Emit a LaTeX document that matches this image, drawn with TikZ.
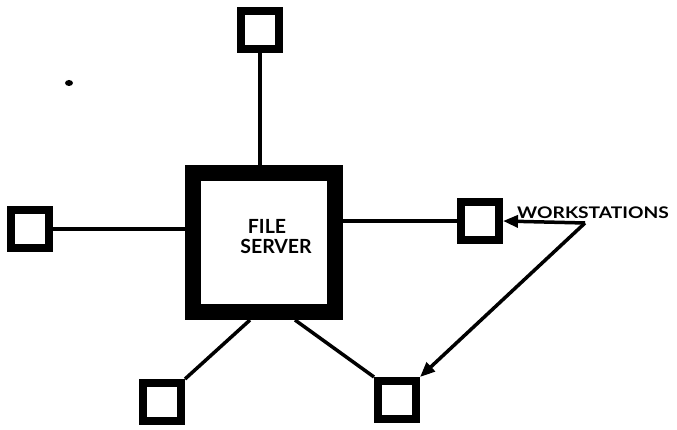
\documentclass[tikz,border=0pt]{standalone}
\usepackage{fontspec}
\setmainfont{Lato}
\usetikzlibrary{arrows.meta}

\tikzset{
  wsbox/.style={draw, line width=8pt, minimum size=38pt, inner sep=0pt},
  serverbox/.style={draw, line width=16pt, minimum width=142pt, minimum height=139pt, fill=white},
  caption/.style={font=\fontsize{19.5}{21}\selectfont\bfseries, align=center, inner sep=0pt},
  link/.style={line width=3.5pt},
  pointer/.style={line width=3.5pt, -{Triangle[length=15pt,width=12pt]}}
}

\begin{document}
\begin{tikzpicture}[x=1pt,y=-1pt]
  \useasboundingbox (0,0) rectangle (677,430);

  % the server and its workstations
  \node[serverbox] (server) at (264,242.5) {};
  \node[caption] (servername) at (276,237) {\hspace*{-18pt}FILE\\[-1pt]SERVER};
  \node[wsbox] (ws1) at (260,30) {};
  \node[wsbox] (ws2) at (30,229) {};
  \node[wsbox] (ws3) at (480,221) {};
  \node[wsbox] (ws4) at (162,402) {};
  \node[wsbox] (ws5) at (397,400) {};

  \node[font=\fontsize{16}{18}\selectfont\bfseries, transform shape, xscale=1.2,
    anchor=west, inner sep=0pt] (label) at (517,213) {WORKSTATIONS};
  \coordinate (fork) at (585,223);

  % cabling
  \draw[link] (ws1) -- (ws1 |- server.north);
  \draw[link] (ws2) -- (ws2 -| server.west);
  \draw[link] (ws3) -- (ws3 -| server.east);
  \draw[link] ([xshift=-14pt]server.south) -- (ws4.north east);
  \draw[link] ([xshift=31pt]server.south) -- (ws5.north west);

  \draw[pointer] (fork) -- (ws3.east);
  \draw[pointer] (fork) -- (ws5.north east);

  \fill (69,83) ellipse (4pt and 3pt);
\end{tikzpicture}
\end{document}
